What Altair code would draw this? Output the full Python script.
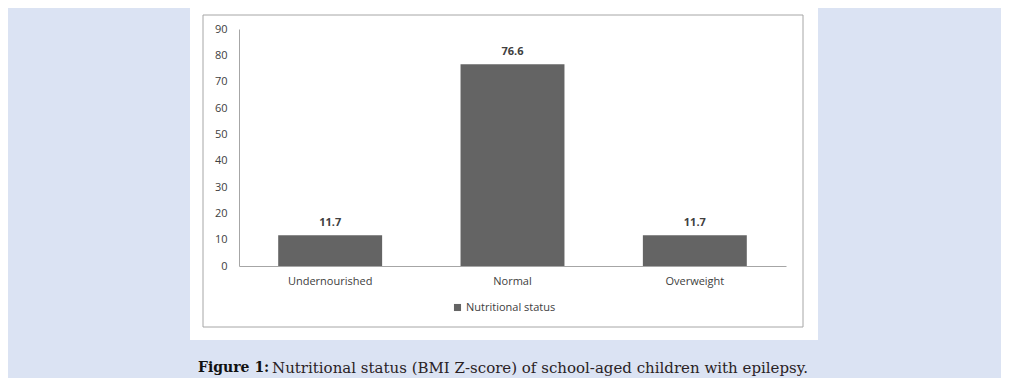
import altair as alt
import pandas as pd

categories = ["Undernourished", "Normal", "Overweight"]
values = [11.7, 76.6, 11.7]
y_ticks = [0, 10, 20, 30, 40, 50, 60, 70, 80, 90]
series_name = "Nutritional status"
caption_bold = "Figure 1:"
caption_rest = "Nutritional status (BMI Z-score) of school-aged children with epilepsy."

df = pd.DataFrame({"category": categories, "value": values, "series": [series_name] * len(categories)})
one = pd.DataFrame({"k": [0]})

LABEL_FONT = "Open Sans"
TXT = "#404040"
CAP_FONT = "DejaVu Serif"

panel = alt.Chart(one).mark_rect(fill="white", stroke=None).encode(
    x=alt.value(-49), x2=alt.value(579), y=alt.value(-24), y2=alt.value(311)
)
border = alt.Chart(one).mark_rect(fill="white", stroke="#a6a6a6", strokeWidth=1).encode(
    x=alt.value(-36), x2=alt.value(564), y=alt.value(-14), y2=alt.value(298)
)

x_enc = alt.X(
    "category:N",
    sort=categories,
    title=None,
    scale=alt.Scale(paddingInner=0.43, paddingOuter=0.215),
    axis=alt.Axis(labelAngle=0, ticks=False, labelPadding=9, labelFont=LABEL_FONT, zindex=1,
                  labelFontSize=11, labelColor=TXT, domainColor="#a6a6a6"),
)
y_enc = alt.Y(
    "value:Q",
    title=None,
    scale=alt.Scale(domain=[0, 90], nice=False),
    axis=alt.Axis(values=y_ticks, tickCount=10, grid=False, ticks=False, labelPadding=12, labelFont=LABEL_FONT,
                  zindex=1, labelOverlap=False, labelFontSize=11, labelColor=TXT, domainColor="#a6a6a6"),
)

bars = alt.Chart(df).mark_bar(color="#646464").encode(
    x=x_enc,
    y=y_enc,
    color=alt.Color(
        "series:N",
        scale=alt.Scale(range=["#646464"]),
        legend=alt.Legend(orient="none", legendX=213, legendY=273, title=None, symbolType="square",
                          symbolSize=50, symbolStrokeWidth=0, labelFont=LABEL_FONT, labelFontSize=11,
                          labelColor=TXT, labelOffset=3, padding=0, zindex=1),
    ),
)

labels = alt.Chart(df).mark_text(dy=-12, font=LABEL_FONT, fontSize=11, fontWeight="bold", color=TXT).encode(
    x=x_enc,
    y=y_enc,
    text=alt.Text("value:Q", format=".1f"),
)

cap1 = alt.Chart(pd.DataFrame({"t": [caption_bold]})).mark_text(
    align="left", baseline="middle", font=CAP_FONT, fontSize=14, fontWeight="bold", color="#111111"
).encode(x=alt.value(-41), y=alt.value(339), text="t:N")
cap2 = alt.Chart(pd.DataFrame({"t": [caption_rest]})).mark_text(
    align="left", baseline="middle", font=CAP_FONT, fontSize=15, color="#2a2225"
).encode(x=alt.value(33), y=alt.value(339), text="t:N")

chart = alt.layer(panel, border, bars, labels, cap1, cap2).properties(
    width=547,
    height=237,
    padding={"left": 231, "top": 21, "right": 215, "bottom": 112},
    autosize=alt.AutoSizeParams(type="none"),
    background="#dbe3f3",
).configure_view(strokeWidth=0)

chart.save("out.html", embed_options={"renderer": "svg", "actions": False})
